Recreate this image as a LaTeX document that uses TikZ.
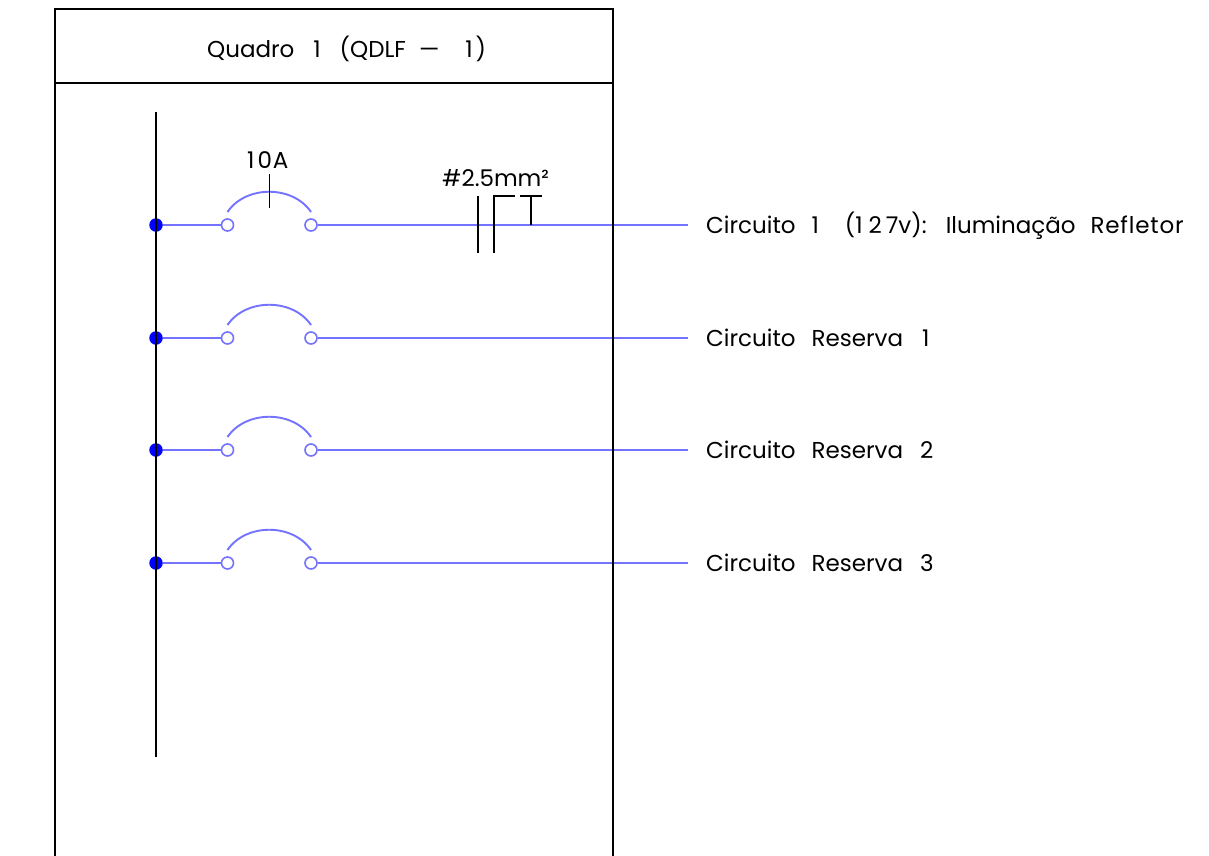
\documentclass[tikz,border=0pt]{standalone}
\usepackage{fontspec}
\setmainfont[WordSpace=2.6]{Poppins}
\usetikzlibrary{calc}
\definecolor{wireblue}{RGB}{115,115,255}
\tikzset{
    wire/.style={wireblue, line width=1.9pt},
    frameline/.style={black, line width=1.9pt},
    cable/.style={black, line width=1.7pt},
    terminal/.style={circle, draw=wireblue, fill=white, line width=1.6pt, inner sep=0pt, minimum size=12pt},
    busdot/.style={circle, fill=blue, inner sep=0pt, minimum size=13.5pt},
    lbl/.style={anchor=base west, inner sep=0pt, font=\fontsize{23}{23}\selectfont}
}
\begin{document}
\begin{tikzpicture}[x=1pt,y=-1pt]
    \useasboundingbox (0,0) rectangle (1209,855);

    % branch lines
    \foreach \name/\ypos/\txt in {a/225/{Circuito 1\kern10pt{} (1\kern6pt 2\kern4pt 7v):\kern1pt{} Iluminação\kern-1pt{} {\addfontfeature{LetterSpace=3.5}Refletor}},
                                  b/338/{Circuito Reserva\kern3pt{} 1},
                                  c/450/{Circuito Reserva\kern1pt{} 2},
                                  d/563/{Circuito Reserva\kern1pt{} 3}} {
        \node[busdot] at (156,\ypos) (dot\name) {};
        \node[terminal] at (227.5,\ypos) (inl\name) {};
        \node[terminal] at (311,\ypos) (out\name) {};
        \node[lbl] at (706,\ypos+8) (text\name) {\txt};
        \coordinate (end\name) at (688,\ypos);
        \coordinate (arcl\name) at (227.5,\ypos-13);
        \coordinate (arcr\name) at (311,\ypos-13);
        \draw[wire] (dot\name) -- (inl\name);
        \draw[wire] (out\name) -- (end\name);
        \draw[wire] (arcl\name) to[bend left=56] (arcr\name);
    }

    % panel
    \coordinate (tl) at (55,9);
    \coordinate (tr) at (613,9);
    \coordinate (ml) at (55,83);
    \coordinate (mr) at (613,83);
    \coordinate (bl) at (55,860);
    \coordinate (br) at (613,860);
    \draw[frameline] (bl) -- (tl) -- (tr) -- (br);
    \draw[frameline] (ml) -- (mr);
    \node[lbl] at (207,57) (title) {Quadro\kern3pt{} 1\kern3pt{} (QDLF\kern-3pt{} —\kern10pt{} 1\kern3pt)};

    % bus
    \coordinate (bustop) at (156,112);
    \coordinate (busbot) at (156,757);
    \draw[frameline] (bustop) -- (busbot);

    % breaker rating
    \node[lbl] at (247,168) (rating) {1\kern3pt 0\kern1pt A};
    \coordinate (ticktop) at (269.5,174);
    \coordinate (tickbot) at (269.5,208);
    \draw[black, line width=1.3pt] (ticktop) -- (tickbot);

    % cable marks
    \node[lbl] at (442,186) (cabletext) {\#2.5mm²};
    \coordinate (ca) at (478,196);
    \coordinate (cb) at (478,253);
    \coordinate (cc) at (494,253);
    \coordinate (cd) at (494,196);
    \coordinate (ce) at (515,196);
    \coordinate (cf) at (520,196);
    \coordinate (cg) at (541.5,196);
    \coordinate (ch) at (531,196);
    \coordinate (ci) at (531,225);
    \draw[cable] (ca) -- (cb);
    \draw[cable] (cc) -- (cd) -- (ce);
    \draw[cable] (cf) -- (cg);
    \draw[cable] (ch) -- (ci);

\end{tikzpicture}
\end{document}
